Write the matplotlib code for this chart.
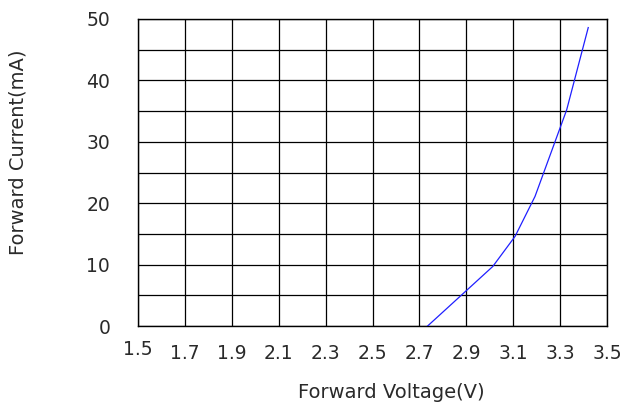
import numpy as np
import matplotlib
matplotlib.use("Agg")
import matplotlib.pyplot as plt

# forward voltage (V) vs forward current (mA)
voltage = [2.735, 2.887, 3.013, 3.108, 3.193, 3.328, 3.420]
current = [0.0, 5.3, 9.7, 14.6, 21.1, 35.2, 48.6]

x_ticks = [1.5, 1.7, 1.9, 2.1, 2.3, 2.5, 2.7, 2.9, 3.1, 3.3, 3.5]
x_labels = ["1.5", "1.7", "1.9", "2.1", "2.3", "2.5", "2.7", "2.9", "3.1", "3.3", "3.5"]
y_ticks = [0, 10, 20, 30, 40, 50]
y_minor = [5, 15, 25, 35, 45]

fig = plt.figure(figsize=(6.34, 4.12), dpi=100)
ax = fig.add_axes([138 / 634, 1 - 326 / 412, 469 / 634, 307 / 412])

ax.plot(voltage, current, color="#1f1fff", lw=0.9, zorder=3)

ax.set_xlim(1.5, 3.5)
ax.set_ylim(0, 50)
ax.set_xticks(x_ticks)
ax.set_xticklabels(x_labels)
ax.set_yticks(y_ticks)
ax.set_yticks(y_minor, minor=True)

ax.grid(True, which="both", color="black", lw=0.9)
ax.tick_params(which="both", length=0, labelsize=13.5, colors="#2a2a2a")
ax.tick_params(axis="x", pad=13)
ax.tick_params(axis="y", pad=20)
for s in ax.spines.values():
    s.set_linewidth(1.0)
    s.set_color("black")

# first x label sits a little higher in the original
ax.get_xticklabels()[0].set_y(0.012)

fig.text(391 / 634, 1 - 393 / 412, "Forward Voltage(V)", ha="center", va="center",
         fontsize=14, color="#2a2a2a")
fig.text(18 / 634, 1 - 152 / 412, "Forward Current(mA)", ha="center", va="center",
         rotation=90, fontsize=14, color="#2a2a2a")

fig.savefig("out.png", dpi=100)
